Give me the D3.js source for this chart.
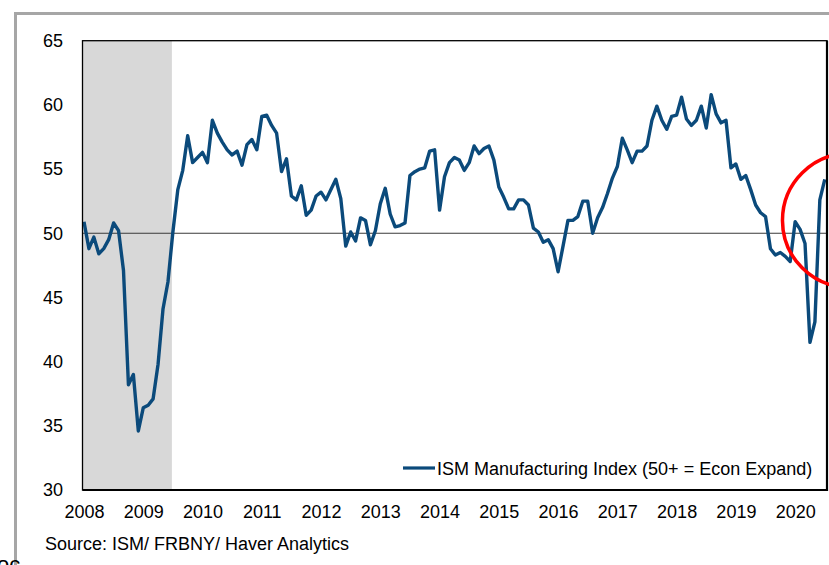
<!DOCTYPE html>
<html>
<head>
<meta charset="utf-8">
<script src="https://cdn.jsdelivr.net/npm/d3@7"></script>
<style>
  html, body { margin: 0; padding: 0; background: #fff; }
  svg { display: block; }
  text { font-family: "Liberation Sans", Arial, sans-serif; fill: #000; }
</style>
</head>
<body>
<svg id="chart" width="829" height="565"></svg>
<script>
// ---- data (monthly, Jan 2008 .. Jul 2020) ----
const startYear = 2008;
const ismValues = [
  50.9, 48.8, 49.7, 48.4, 48.8, 49.5, 50.8, 50.2, 47.1, 38.2, 39.0, 34.6, // 2008
  36.4, 36.6, 37.1, 39.8, 44.1, 46.2, 50.1, 53.4, 54.9, 57.6, 55.5, 55.9, // 2009
  56.3, 55.5, 58.8, 57.8, 57.1, 56.5, 56.1, 56.4, 55.3, 56.9, 57.3, 56.5, // 2010
  59.1, 59.2, 58.4, 57.8, 54.8, 55.8, 52.9, 52.6, 53.7, 51.4, 51.8, 52.9, // 2011
  53.2, 52.6, 53.4, 54.2, 52.7, 49.0, 50.1, 49.4, 51.2, 51.0, 49.1, 50.2, // 2012
  52.3, 53.5, 51.5, 50.5, 50.6, 50.8, 54.5, 54.8, 55.0, 55.1, 56.4, 56.5, // 2013
  51.8, 54.4, 55.5, 55.9, 55.7, 54.9, 55.5, 56.8, 56.2, 56.6, 56.8, 55.7, // 2014
  53.6, 52.8, 51.9, 51.9, 52.6, 52.6, 52.2, 50.4, 50.1, 49.3, 49.5, 48.8, // 2015
  47.0, 49.0, 51.0, 51.0, 51.3, 52.5, 52.5, 50.0, 51.2, 52.0, 53.1, 54.3, // 2016
  55.2, 57.4, 56.5, 55.5, 56.4, 56.4, 56.8, 58.8, 59.9, 58.8, 58.1, 59.1, // 2017
  59.2, 60.6, 58.9, 58.4, 58.8, 59.9, 58.2, 60.8, 59.3, 58.6, 58.8, 55.1, // 2018
  55.4, 54.2, 54.5, 53.4, 52.2, 51.6, 51.3, 48.8, 48.3, 48.5, 48.2, 47.8, // 2019
  50.9, 50.3, 49.2, 41.5, 43.1, 52.6, 54.2                                // 2020
];
const yearLabels = ["2008","2009","2010","2011","2012","2013","2014","2015","2016","2017","2018","2019","2020"];
const yTickValues = [30, 35, 40, 45, 50, 55, 60, 65];
const recessionMonths = [-1, 17.8];   // Dec 2007 .. end of Jun 2009 (month index)
const referenceLevel = 50;
const seriesName = "ISM Manufacturing Index (50+ = Econ Expand)";
const sourceText = "Source: ISM/ FRBNY/ Haver Analytics";
const highlightMonth = 155;  // centre of the red circle (month index)
const highlightLevel = 51.0;

// ---- layout ----
const plot = { left: 82.5, right: 827, top: 40.7, bottom: 490 };
const svg = d3.select("#chart");

const x = d3.scaleLinear().domain([-0.3, 150.45]).range([plot.left, plot.right]);
const y = d3.scaleLinear().domain([30, 65]).range([plot.bottom, plot.top]);

// outer grey frame
svg.append("rect")
  .attr("x", 15.5).attr("y", 13.5)
  .attr("width", 900).attr("height", 700)
  .attr("fill", "none").attr("stroke", "#a6a6a6").attr("stroke-width", 3);

// clipped fragment of text below frame
svg.append("text").attr("x", -3).attr("y", 572)
  .attr("font-size", 22).text("oc");

// clip for plot
svg.append("clipPath").attr("id", "plotclip")
  .append("rect").attr("x", plot.left).attr("y", plot.top)
  .attr("width", plot.right - plot.left).attr("height", plot.bottom - plot.top);

const g = svg.append("g").attr("clip-path", "url(#plotclip)");

// recession shading
g.append("rect")
  .attr("x", x(recessionMonths[0]))
  .attr("y", plot.top)
  .attr("width", x(recessionMonths[1]) - x(recessionMonths[0]))
  .attr("height", plot.bottom - plot.top)
  .attr("fill", "#d8d8d8");

// reference line at 50
g.append("line")
  .attr("x1", plot.left).attr("x2", plot.right)
  .attr("y1", y(referenceLevel)).attr("y2", y(referenceLevel))
  .attr("stroke", "#3a3a3a").attr("stroke-width", 1.2);

// series line
const line = d3.line().x((d, i) => x(i)).y(d => y(d));
g.append("path")
  .datum(ismValues)
  .attr("d", line)
  .attr("fill", "none")
  .attr("stroke", "#0b4a7b")
  .attr("stroke-width", 3.4)
  .attr("stroke-linejoin", "round");

// plot border
svg.append("rect")
  .attr("x", plot.left).attr("y", plot.top)
  .attr("width", plot.right - plot.left).attr("height", plot.bottom - plot.top)
  .attr("fill", "none").attr("stroke", "#000").attr("stroke-width", 1.3);
svg.append("line").attr("x1", plot.right).attr("x2", plot.right)
  .attr("y1", plot.top).attr("y2", plot.bottom + 1)
  .attr("stroke", "#000").attr("stroke-width", 2.2);
svg.append("line").attr("x1", plot.left).attr("x2", plot.right + 1)
  .attr("y1", plot.bottom).attr("y2", plot.bottom)
  .attr("stroke", "#000").attr("stroke-width", 2.2);

// y axis (labels only)
const yAxis = d3.axisLeft(y).tickValues(yTickValues).tickSize(0).tickPadding(0);
const yG = svg.append("g").attr("transform", `translate(${63},0)`).call(yAxis);
yG.select(".domain").remove();
yG.selectAll("text").attr("font-size", 18).attr("font-family", "Liberation Sans, Arial, sans-serif").attr("fill", "#000");

// x axis (labels only)
const xAxis = d3.axisBottom(x)
  .tickValues(yearLabels.map((d, i) => i * 12))
  .tickFormat((d, i) => yearLabels[i])
  .tickSize(0).tickPadding(0);
const xG = svg.append("g").attr("transform", `translate(0,${505})`).call(xAxis);
xG.select(".domain").remove();
xG.selectAll("text").attr("font-size", 18).attr("font-family", "Liberation Sans, Arial, sans-serif").attr("fill", "#000");

// source
svg.append("text").attr("x", 45).attr("y", 550)
  .attr("font-size", 18).text(sourceText);

// legend
const legY = 468;
svg.append("line").attr("x1", 403).attr("x2", 435)
  .attr("y1", legY).attr("y2", legY)
  .attr("stroke", "#0b4a7b").attr("stroke-width", 3.2);
svg.append("text").attr("x", 437).attr("y", legY + 6.5)
  .attr("font-size", 18).text(seriesName);

// red highlight circle
svg.append("circle")
  .attr("cx", x(highlightMonth)).attr("cy", y(highlightLevel))
  .attr("r", 67)
  .attr("fill", "none").attr("stroke", "#ff0000").attr("stroke-width", 3.5);
</script>
</body>
</html>
